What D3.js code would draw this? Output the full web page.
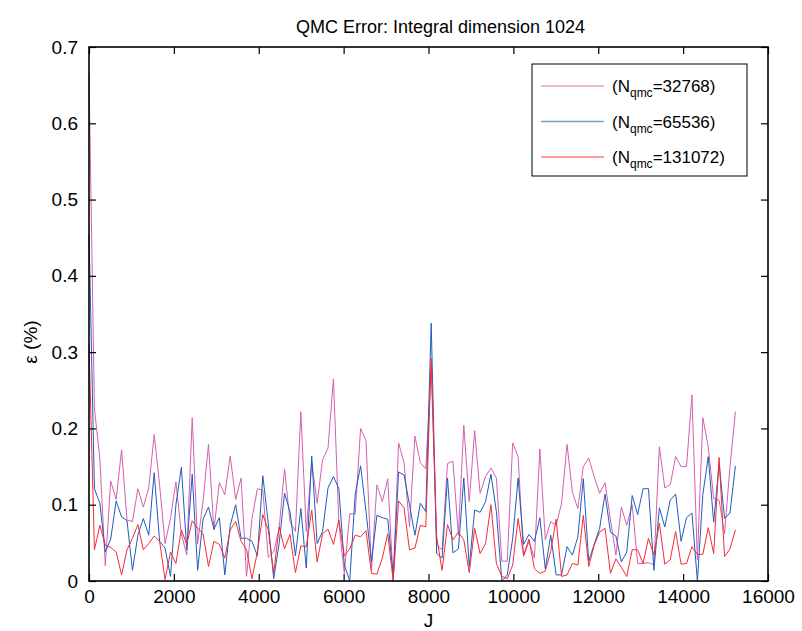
<!DOCTYPE html>
<meta charset="utf-8">
<style>

body {
  margin: 0;
  background: #fff;
}

text {
  font-family: "Liberation Sans", Arial, Helvetica, sans-serif;
}

.axis path {
  display: none;
}

.axis line {
  stroke: #000;
  stroke-width: 1.2;
}

.axis text {
  font-size: 19px;
  fill: #000;
}

.line {
  fill: none;
  stroke-width: 1;
}

</style>
<svg width="802" height="631"></svg>
<script src="https://d3js.org/d3.v7.min.js"></script>
<script>

// sample spacing along J (points every 128)
var jStep = 128;

// error values, in %
var err32768 = [0.665, 0.226, 0.16, 0.02, 0.131, 0.107, 0.172, 0.08, 0.078, 0.121, 0.097, 0.122, 0.192, 0.126, 0.049, 0.082, 0.13, 0.062, 0.034, 0.214, 0.049, 0.105,
  0.179, 0.067, 0.129, 0.113, 0.164, 0.107, 0.135, 0.006, 0.082, 0.121, 0.119, 0.031, 0.038, 0.069, 0.147, 0.078, 0.065, 0.222, 0.065, 0.156, 0.102,
  0.159, 0.174, 0.265, 0.076, 0.01, 0.088, 0.088, 0.2, 0.184, 0.014, 0.126, 0.104, 0.134, 0.001, 0.181, 0.155, 0.071, 0.19, 0.155, 0.147,
  0.28,
  0.047, 0.041, 0.154, 0.157, 0.06, 0.204, 0.104, 0.197, 0.115, 0.137, 0.148, 0.135, 0.026, 0.026, 0.181, 0.163, 0.032, 0.052, 0.03, 0.173, 0.054,
  0.078, 0.073, 0.102, 0.179, 0.116, 0.095, 0.15, 0.161, 0.137, 0.115, 0.129, 0.08, 0.034, 0.097, 0.073, 0.1, 0.023, 0.023, 0.024, 0.021, 0.176,
  0.122, 0.126, 0.163, 0.15, 0.15, 0.244, 0.028, 0.214, 0.176, 0.108, 0.106, 0.062, 0.15, 0.222];

var err65536 = [0.455, 0.121, 0.102, 0.038, 0.055, 0.105, 0.084, 0.079, 0.014, 0.06, 0.082, 0.06, 0.142, 0.052, 0.043, 0.006, 0.1, 0.149, 0.041, 0.14, 0.014, 0.081,
  0.097, 0.068, 0.083, 0.008, 0.073, 0.1, 0.056, 0.056, 0.052, 0.033, 0.138, 0.076, 0.003, 0.049, 0.115, 0.091, 0.033, 0.095, 0.017, 0.164, 0.049,
  0.065, 0.122, 0.137, 0.121, 0.021, 0.0, 0.113, 0.151, 0.091, 0.025, 0.086, 0.083, 0.081, 0.006, 0.143, 0.139, 0.1, 0.06, 0.102, 0.091,
  0.338,
  0.036, 0.03, 0.135, 0.037, 0.042, 0.135, 0.019, 0.093, 0.09, 0.104, 0.14, 0.091, 0.0, 0.008, 0.056, 0.135, 0.048, 0.061, 0.052, 0.083, 0.016,
  0.06, 0.008, 0.008, 0.045, 0.034, 0.058, 0.134, 0.026, 0.048, 0.069, 0.114, 0.064, 0.059, 0.025, 0.038, 0.112, 0.087, 0.121, 0.121, 0.014, 0.096,
  0.071, 0.106, 0.114, 0.052, 0.083, 0.089, 0.0, 0.113, 0.163, 0.077, 0.154, 0.082, 0.089, 0.151];

var err131072 = [0.31, 0.041, 0.073, 0.047, 0.044, 0.038, 0.008, 0.041, 0.056, 0.074, 0.041, 0.049, 0.059, 0.052, 0.002, 0.038, 0.023, 0.067, 0.048, 0.079, 0.069, 0.062,
  0.019, 0.052, 0.048, 0.03, 0.067, 0.078, 0.052, 0.041, 0.003, 0.038, 0.087, 0.067, 0.01, 0.071, 0.042, 0.061, 0.011, 0.046, 0.045, 0.093, 0.025,
  0.062, 0.068, 0.048, 0.08, 0.033, 0.042, 0.06, 0.058, 0.066, 0.01, 0.009, 0.03, 0.062, 0.0, 0.105, 0.096, 0.041, 0.043, 0.073, 0.071,
  0.292,
  0.058, 0.014, 0.074, 0.054, 0.064, 0.054, 0.011, 0.069, 0.036, 0.049, 0.1, 0.023, 0.006, 0.003, 0.021, 0.082, 0.034, 0.055, 0.016, 0.01, 0.013,
  0.039, 0.081, 0.006, 0.008, 0.023, 0.021, 0.086, 0.019, 0.047, 0.064, 0.069, 0.01, 0.029, 0.018, 0.006, 0.041, 0.041, 0.023, 0.056, 0.034, 0.076,
  0.022, 0.028, 0.065, 0.022, 0.023, 0.045, 0.035, 0.035, 0.07, 0.036, 0.162, 0.032, 0.042, 0.067];

var seriesNames = ["32768", "65536", "131072"];
var seriesColors = ["#d460b0", "#1f5cbf", "#f42c36"];
var xTicks = [0, 2000, 4000, 6000, 8000, 10000, 12000, 14000, 16000];
var yTicks = [0, 0.1, 0.2, 0.3, 0.4, 0.5, 0.6, 0.7];

var svg = d3.select("svg"),
    margin = {top: 47, right: 34, bottom: 50, left: 89},
    width = +svg.attr("width") - margin.left - margin.right,
    height = +svg.attr("height") - margin.top - margin.bottom;

var x = d3.scaleLinear().domain([0, 16000]).range([0, width]),
    y = d3.scaleLinear().domain([0, 0.7]).range([height, 0]);

var g = svg.append("g")
    .attr("transform", "translate(" + margin.left + "," + margin.top + ")");

var series = [err32768, err65536, err131072].map(function(vals, k) {
  return {
    name: seriesNames[k],
    color: seriesColors[k],
    values: vals.map(function(v, i) { return {j: i * jStep, e: v}; })
  };
});

var line = d3.line()
    .x(function(d) { return x(d.j); })
    .y(function(d) { return y(d.e); });

g.selectAll(".line")
  .data(series)
  .enter().append("path")
    .attr("class", "line")
    .attr("stroke", function(d) { return d.color; })
    .attr("d", function(d) { return line(d.values); });

// axes, ticks pointing inward on all four sides
g.append("g")
    .attr("class", "axis axis--x")
    .attr("transform", "translate(0," + height + ")")
    .call(d3.axisBottom(x).tickValues(xTicks).tickSizeInner(-7).tickSizeOuter(0).tickPadding(9)
      .tickFormat(d3.format("d")));

g.append("g")
    .attr("class", "axis axis--x2")
    .call(d3.axisTop(x).tickValues(xTicks).tickSizeInner(-7).tickSizeOuter(0).tickFormat(""));

g.append("g")
    .attr("class", "axis axis--y")
    .call(d3.axisLeft(y).tickValues(yTicks).tickSizeInner(-7).tickSizeOuter(0).tickPadding(11)
      .tickFormat(function(d) { return d === 0 ? "0" : d3.format(".1f")(d); }));

g.append("g")
    .attr("class", "axis axis--y2")
    .attr("transform", "translate(" + width + ",0)")
    .call(d3.axisRight(y).tickValues(yTicks).tickSizeInner(-7).tickSizeOuter(0).tickFormat(""));

g.append("rect")
    .attr("width", width)
    .attr("height", height)
    .attr("fill", "none")
    .attr("stroke", "#000")
    .attr("stroke-width", 1.6);

// title and axis labels
svg.append("text")
    .attr("x", margin.left + width / 2 + 12)
    .attr("y", 33)
    .attr("text-anchor", "middle")
    .style("font-size", "18px")
    .text("QMC Error: Integral dimension 1024");

svg.append("text")
    .attr("x", margin.left + width / 2)
    .attr("y", 627)
    .attr("text-anchor", "middle")
    .style("font-size", "19px")
    .text("J");

svg.append("text")
    .attr("transform", "translate(37," + (margin.top + height / 2 + 28) + ") rotate(-90)")
    .attr("text-anchor", "middle")
    .style("font-size", "19px")
    .text("\u03b5 (%)");

// legend
var legend = g.append("g")
    .attr("transform", "translate(" + (532 - margin.left) + "," + (64 - margin.top) + ")");

legend.append("rect")
    .attr("width", 215)
    .attr("height", 112)
    .attr("fill", "#fff")
    .attr("stroke", "#000")
    .attr("stroke-width", 1);

var item = legend.selectAll(".item")
  .data(series)
  .enter().append("g")
    .attr("class", "item")
    .attr("transform", function(d, i) { return "translate(0," + (22 + i * 35.5) + ")"; });

item.append("line")
    .attr("x1", 9)
    .attr("x2", 72)
    .attr("stroke", function(d) { return d.color; })
    .attr("stroke-opacity", 0.6)
    .attr("stroke-width", 1.3);

var label = item.append("text")
    .attr("x", 80)
    .attr("y", 6)
    .style("font-size", "17px");

label.append("tspan").text("(N");
label.append("tspan").attr("dy", 5).style("font-size", "12px").text("qmc");
label.append("tspan").attr("dy", -5).text(function(d) { return "=" + d.name + ")"; });

</script>
